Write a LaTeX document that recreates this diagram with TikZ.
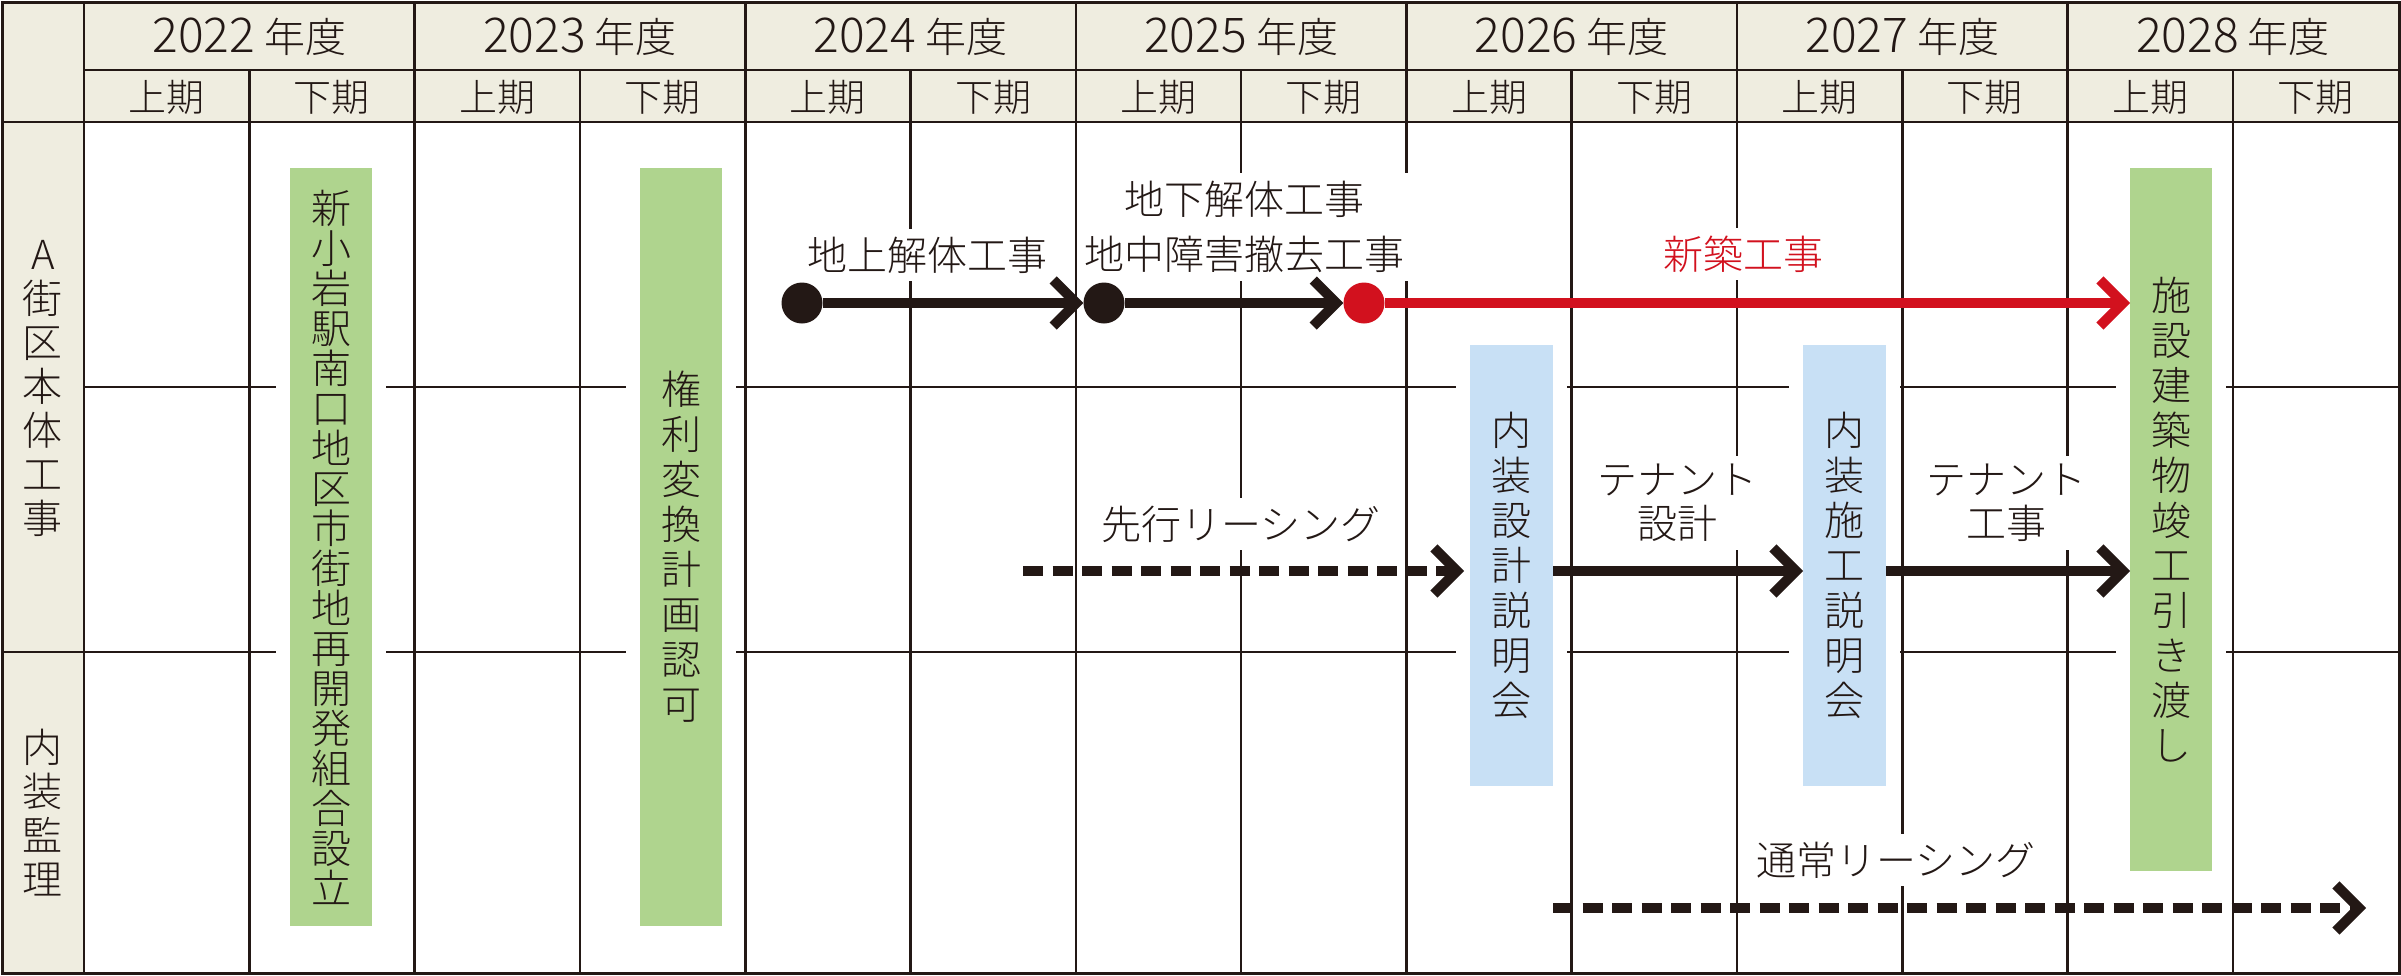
\documentclass[tikz,border=0pt]{standalone}
\usepackage{fontspec}
\setmainfont{Noto Sans CJK JP}[UprightFont=* Light]
\usetikzlibrary{arrows.meta,positioning}
\definecolor{ink}{HTML}{231815}
\definecolor{beige}{HTML}{EFEDE0}
\definecolor{leaf}{HTML}{AFD48E}
\definecolor{sky}{HTML}{C8E0F5}
\definecolor{alarm}{HTML}{D2111E}
\newcommand\fy[1]{{\fontsize{48}{50}\selectfont#1} 年度}
\tikzset{
GRID/.style={draw=ink,line width=2.6pt},
HEADTXT/.style={text=ink,inner sep=0pt,font=\fontsize{41}{44}\selectfont},
HALFTXT/.style={text=ink,inner sep=0pt,font=\fontsize{38}{40}\selectfont},
SIDE/.style={text=ink,inner sep=0pt,align=center,font=\fontsize{40}{44}\selectfont},
BAR/.style={fill=#1,draw=none,inner sep=0pt,outer sep=0pt,align=center,text=ink,
	preaction={draw=white,line width=28pt},font=\fontsize{40}{45}\selectfont},
BAR/.default=leaf,
LABEL/.style={fill=white,inner xsep=4pt,inner ysep=8pt,align=center,text=ink,
	font=\fontsize{40}{55}\selectfont},
ARROW/.style={draw=#1,line width=10pt,-{Straight Barb[length=23pt,width=46pt,sharp]}},
ARROW/.default=ink,
DASHARROW/.style={ARROW,dash pattern=on 20pt off 9.5pt},
DOT/.style={circle,fill=#1,draw=none,minimum size=41pt,inner sep=0pt},
DOT/.default=ink,
}
\begin{document}
\begin{tikzpicture}[x=1pt,y=-1pt]
	\useasboundingbox (0,0) rectangle (2401,975);
	\fill[beige] (2,2) rectangle (2399,122);
	\fill[beige] (2,122) rectangle (84,973);
	%grid
	\foreach \i in {2,4,...,12}
		\draw[GRID] ({84+165.3*\i},2) -- ({84+165.3*\i},973);
	\foreach \i in {1,3,...,13}
		\draw[GRID] ({84+165.3*\i},70) -- ({84+165.3*\i},973);
	\draw[GRID] (84,2) -- (84,973);
	\draw[GRID] (84,70) -- (2399,70);
	\draw[GRID] (2,122) -- (2399,122);
	\draw[GRID] (84,387) -- (2399,387);
	\draw[GRID] (2,652) -- (2399,652);
	\draw[GRID,line width=3pt] (2,2) rectangle (2399,973);
	%header
	\foreach \yr [count=\k from 0] in {2022,...,2028}
		\node[HEADTXT] (yr\yr) at ({84+330.6*\k+165.3},37) {\fy{\yr}};
	\foreach \i in {0,2,...,12}
		\node[HALFTXT] (up\i) at ({84+165.3*(\i+0.5)},97) {上期};
	\foreach \i in {1,3,...,13}
		\node[HALFTXT] (down\i) at ({84+165.3*(\i+0.5)},97) {下期};
	\node[SIDE] (bodywork) at (43,388) {A\\街\\区\\本\\体\\工\\事};
	\node[SIDE] (interior) at (43,813) {内\\装\\監\\理};
	%labels
	\node[LABEL] (demoA) at (927,255) {地上解体工事};
	\node[LABEL] (demoB) at (1244,227) {地下解体工事\\地中障害撤去工事};
	\node[LABEL,text=alarm] (build) at (1743,254) {新築工事};
	\node[LABEL] (leaseA) at (1241,524) {先行リーシング};
	\node[LABEL,font=\fontsize{40}{44}\selectfont] (tenantA) at (1677,503) {テナント\\設計};
	\node[LABEL,font=\fontsize{40}{44}\selectfont] (tenantB) at (2006,503) {テナント\\工事};
	\node[LABEL] (leaseB) at (1896,860) {通常リーシング};
	%milestones
	\node[BAR,font=\fontsize{40}{40}\selectfont,minimum width=82pt,minimum height=758pt]
		(green1) at (331,547) {新\\小\\岩\\駅\\南\\口\\地\\区\\市\\街\\地\\再\\開\\発\\組\\合\\設\\立};
	\node[BAR,minimum width=82pt,minimum height=758pt]
		(green2) at (681,547) {権\\利\\変\\換\\計\\画\\認\\可};
	\node[BAR=sky,minimum width=83pt,minimum height=441pt]
		(blue1) at (1511.5,565.5) {内\\装\\設\\計\\説\\明\\会};
	\node[BAR=sky,minimum width=83pt,minimum height=441pt]
		(blue2) at (1844.5,565.5) {内\\装\\施\\工\\説\\明\\会};
	\node[BAR,minimum width=82pt,minimum height=703pt]
		(green3) at (2171,519.5) {施\\設\\建\\築\\物\\竣\\工\\引\\き\\渡\\し};
	%demolition and construction
	\node[DOT] (dot1) at (802,303) {};
	\node[DOT] (dot2) at (1104,303) {};
	\node[DOT=alarm] (dot3) at (1364,303) {};
	\draw[ARROW] (dot1) -- (dot2);
	\draw[ARROW] (dot2) -- (dot3);
	\draw[ARROW=alarm] (dot3) -- (dot3 -| green3.west);
	%leasing
	\coordinate (leaseStart) at (1023,571);
	\coordinate (leaseEnd) at (2366,908);
	\draw[DASHARROW,shorten >=6pt] (leaseStart) -- (leaseStart -| blue1.west);
	\draw[ARROW] (leaseStart -| blue1.east) -- (leaseStart -| blue2.west);
	\draw[ARROW] (leaseStart -| blue2.east) -- (leaseStart -| green3.west);
	\draw[DASHARROW] (leaseEnd -| blue1.east) -- (leaseEnd);
\end{tikzpicture}
\end{document}
